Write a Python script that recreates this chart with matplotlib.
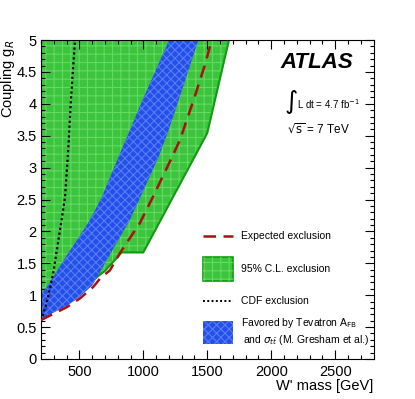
import matplotlib
matplotlib.use('Agg')
import matplotlib.pyplot as plt
import numpy as np
from matplotlib.patches import Rectangle
from matplotlib.lines import Line2D

plt.rcParams['font.family'] = ['Liberation Sans', 'DejaVu Sans']
plt.rcParams['hatch.linewidth'] = 0.8

# observed 95% CL exclusion: lower/right boundary
obs_x = [200, 300, 400, 500, 600, 660, 700, 800, 830, 1000, 1500, 1670]
obs_y = [0.66, 0.77, 0.88, 1.03, 1.22, 1.32, 1.38, 1.60, 1.67, 1.67, 3.54, 5.0]

# expected exclusion
exp_x = [200, 309, 400, 505, 609, 661, 739, 817, 973, 1075, 1221, 1286, 1400, 1480, 1535]
exp_y = [0.61, 0.72, 0.81, 0.95, 1.13, 1.26, 1.39, 1.66, 2.13, 2.54, 3.15, 3.43, 4.1, 4.6, 5.0]

# CDF exclusion
cdf_x = [200, 244, 296, 361, 388, 413, 434, 466]
cdf_y = [0.6, 0.87, 1.35, 2.18, 2.54, 3.28, 4.06, 5.0]

# Tevatron favoured band
fav_up_x = [200, 300, 400, 500, 583, 676, 817, 1005, 1202]
fav_up_y = [1.0, 1.3, 1.62, 1.92, 2.18, 2.54, 3.22, 4.11, 5.0]
fav_lo_x = [1430, 1300, 1200, 1116, 973, 895, 800, 700, 650, 600, 500, 400, 300, 200]
fav_lo_y = [5.0, 4.2, 3.6, 3.15, 2.52, 2.18, 1.85, 1.5, 1.32, 1.15, 0.97, 0.83, 0.73, 0.62]

fig = plt.figure(figsize=(4.15, 3.99), dpi=100)
ax = fig.add_axes([0.0988, 0.1003, 0.8012, 0.7994])

green = '#3cc43c'
blue = '#2250e8'
# green region
gx = [200] + obs_x
gy = [5.0] + obs_y
ax.fill(gx, gy, facecolor=green, edgecolor='none', zorder=1)
ax.fill(gx, gy, facecolor='none', edgecolor='#66d866', hatch='++', linewidth=0, zorder=1.1)
ax.plot(obs_x[1:], obs_y[1:], color='#119911', lw=1.5, zorder=1.2)

# blue band
bx = fav_up_x + fav_lo_x
by = fav_up_y + fav_lo_y
ax.fill(bx, by, facecolor=blue, edgecolor='none', zorder=2)
ax.fill(bx, by, facecolor='none', edgecolor='#5a7cf5', hatch='xxxx', linewidth=0, zorder=2.1)

ax.plot(cdf_x, cdf_y, color='black', ls=(0, (1, 1.2)), lw=1.6, zorder=3)
ax.plot(exp_x, exp_y, color='#aa1111', ls=(0, (5, 3)), lw=1.8, zorder=3)

ax.set_xlim(200, 2800)
ax.set_ylim(0, 5)
ax.set_xticks([500, 1000, 1500, 2000, 2500])
ax.set_xticks(np.arange(200, 2801, 100), minor=True)
ax.set_yticks(np.arange(0, 5.01, 0.5))
ax.set_yticklabels(['0', '0.5', '1', '1.5', '2', '2.5', '3', '3.5', '4', '4.5', '5'])
ax.set_yticks(np.arange(0, 5.01, 0.1), minor=True)
ax.tick_params(which='both', direction='in', top=True, right=True, labelsize=10.5)
ax.tick_params(which='major', length=6.5, width=0.8)
ax.tick_params(which='minor', length=3.2, width=0.8)
ax.tick_params(axis='x', pad=4)
ax.tick_params(axis='y', pad=3)

ax.set_xlabel("W' mass [GeV]", fontsize=10.5, loc='right', labelpad=0)
ax.set_ylabel('Coupling g$_R$', fontsize=10.5, loc='top')
ax.yaxis.set_label_coords(-0.072, 1.0)

ax.text(0.94, 0.93, 'ATLAS', transform=ax.transAxes, fontsize=16, fontweight='bold',
        fontstyle='italic', ha='right', va='center')
ax.text(0.73, 0.805, r'$\int$', transform=ax.transAxes, fontsize=13, ha='left', va='center')
ax.text(0.77, 0.8, 'L dt = 4.7 fb$^{-1}$', transform=ax.transAxes, fontsize=7, ha='left', va='center')
ax.text(0.74, 0.72, r'$\sqrt{\mathrm{s}}$ = 7 TeV', transform=ax.transAxes, fontsize=8.5,
        ha='left', va='center')

# legend
lx0, lx1 = 0.487, 0.578
tx = 0.6
def yax(p):
    return (359 - p) / 319.0

ax.add_line(Line2D([lx0, lx1], [yax(236)] * 2, transform=ax.transAxes, color='#aa1111',
                   ls=(0, (5, 3)), lw=1.8))
ax.text(tx, yax(236), 'Expected exclusion', transform=ax.transAxes, fontsize=7.5, va='center')
ax.add_patch(Rectangle((lx0, yax(281)), lx1 - lx0, yax(257) - yax(281), transform=ax.transAxes,
                       facecolor=green, edgecolor='#119911', lw=1.2))
ax.add_patch(Rectangle((lx0, yax(281)), lx1 - lx0, yax(257) - yax(281), transform=ax.transAxes,
                       facecolor='none', edgecolor='#66d866', hatch='++', lw=0))
ax.text(tx, yax(269), '95% C.L. exclusion', transform=ax.transAxes, fontsize=7.5, va='center')
ax.add_line(Line2D([lx0, lx1], [yax(301)] * 2, transform=ax.transAxes, color='black',
                   ls=(0, (1, 1.2)), lw=1.4))
ax.text(tx, yax(301), 'CDF exclusion', transform=ax.transAxes, fontsize=7.5, va='center')
ax.add_patch(Rectangle((lx0, yax(344)), lx1 - lx0, yax(321) - yax(344), transform=ax.transAxes,
                       facecolor=blue, edgecolor='none', lw=0))
ax.add_patch(Rectangle((lx0, yax(344)), lx1 - lx0, yax(321) - yax(344), transform=ax.transAxes,
                       facecolor='none', edgecolor='#5a7cf5', hatch='xxxx', lw=0))
ax.text(tx, yax(323), 'Favored by Tevatron A$_{\\mathrm{FB}}$', transform=ax.transAxes,
        fontsize=7.5, va='center')
ax.text(tx + 0.008, yax(340), r'and $\sigma_{t\bar{t}}$ (M. Gresham et al.)', transform=ax.transAxes,
        fontsize=7.5, va='center')

fig.savefig('out.png', dpi=100)
